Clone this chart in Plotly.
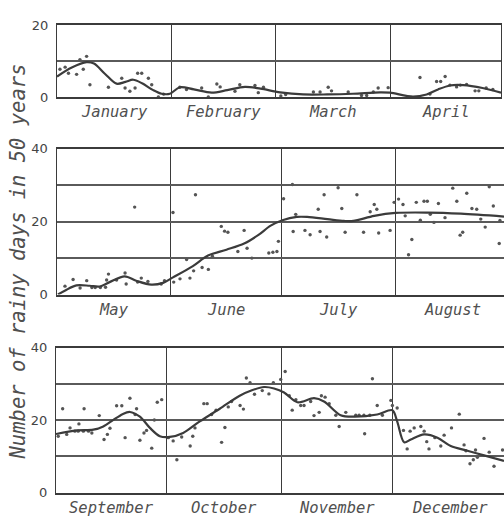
import plotly.graph_objects as go

# Days are counted from the first day of each panel's first month.

# ---- January - April ----
months_1 = ["January", "February", "March", "April"]
month_days_1 = [31, 28, 31, 30]
curve_day_1 = [0, 4, 8, 10, 13, 16.1, 18.5, 20.6, 23, 26, 28.3, 30.5, 33.2, 37, 41.8, 46,
               50.8, 55, 60.3, 66.5, 73, 80, 87.3, 90, 96.2, 99.9, 103, 106.2, 109.8, 115, 120]
curve_val_1 = [5.8, 8.3, 9.8, 9.4, 6.5, 3.8, 4.3, 4.9, 3.9, 2.0, 1.0, 1.0, 2.8, 2.2, 1.3, 2.0,
               2.9, 2.4, 1.4, 0.8, 0.8, 1.0, 1.4, 1.3, 0.2, 0.8, 2.2, 3.3, 3.4, 2.6, 1.3]
obs_day_1 = [0.8, 2.2, 3.1, 5.3, 6.2, 7.1, 8.0, 8.9, 13.9, 17.5, 18.4, 19.7, 21.1, 21.8, 22.9,
             24.7, 25.6, 27.4, 28.8, 33.2, 35, 39.1, 40.9, 43.2, 44.1, 48.1, 49.4, 53.5, 54.4,
             55.8, 60.5, 61.8, 69.3, 71.1, 73.3, 74.2, 78.7, 82.3, 83.7, 85.5, 86.8, 89.5,
             98.1, 100.8, 102.6, 103.7, 104.9, 106.2, 108, 109, 110.7, 113, 114, 116, 117.8]
obs_val_1 = [7.8, 8.4, 6.7, 6.4, 10.5, 7.8, 11.4, 3.5, 2.8, 5.3, 2.6, 1.7, 2.6, 6.7, 6.7,
             5.3, 3.5, 0.1, 0.9, 2.8, 2.2, 2.6, 0.1, 3.7, 2.9, 1.7, 3.5, 3.3, 1.3,
             2.8, 0.4, 0.8, 1.5, 1.5, 2.8, 1.8, 1.5, 0.5, 0.5, 1.5, 2.6, 2.7,
             5.5, 0.9, 4.4, 4.4, 5.8, 3.4, 2.9, 3.4, 3.6, 1.8, 1.8, 2.6, 2.2]

# ---- May - August ----
months_2 = ["May", "June", "July", "August"]
month_days_2 = [31, 30, 31, 31]
curve_day_2 = [0.4, 2.5, 5.4, 9, 11.7, 14.4, 18.5, 21.6, 25.7, 28.9, 31.6, 37, 41.1, 46.1,
               50.9, 54.7, 58.1, 61.3, 65.2, 68, 73.5, 78, 80.5, 86.2, 92, 100.6, 109.7, 121.4]
curve_val_2 = [0.0, 1.2, 2.5, 2.4, 2.2, 3.4, 5.0, 3.8, 2.7, 3.2, 4.7, 7.8, 10.7, 12.3,
               14.0, 16.3, 18.9, 20.4, 21.3, 21.3, 20.7, 20.2, 20.2, 21.6, 22.4, 22.5, 22.2, 21.4]
obs_day_2 = [2.3, 4.5, 6.4, 8.2, 9.6, 10.5, 11.9, 13.3, 13.6, 14.1, 16.3, 18.6, 18.9, 21.2,
             22, 23, 24.8, 28.4, 29.3, 31.6, 31.8, 33.5, 35.3, 36.2, 37.2, 37.7, 39.5, 41.2,
             42.3, 44.7, 45.6, 46.5, 49.2, 50.9, 51.7, 53, 57.6, 58.7, 59.8, 60.2,
             61.6, 64, 64.2, 64.9, 67.4, 68.8, 71, 71.5, 72.6, 73.3, 76.4, 77.4, 78.3, 81.5,
             83.3, 85.1, 86.2, 86.9, 87.4, 90.5, 91.6, 92.8, 94, 94.6, 95.5, 96.4, 97.6, 98.7,
             99.7, 100.6, 101.4, 102.4, 103.6, 105.4, 107.5, 108.6, 109.5, 110.2, 111.3,
             112.7, 114, 115.1, 116.3, 117.4, 118.5, 120.1, 120.3]
obs_val_2 = [2.3, 4.1, 1.8, 3.8, 1.9, 1.9, 1.9, 2.0, 4.0, 5.6, 4.0, 5.9, 2.9, 24.0,
             3.4, 4.5, 3.6, 2.9, 3.8, 22.5, 3.4, 4.3, 9.6, 4.5, 6.5, 27.4, 7.4, 6.9,
             10.5, 18.7, 17.4, 17.1, 11.8, 17.6, 12.7, 10.0, 11.4, 11.6, 11.8, 14.6,
             26.3, 30.2, 17.3, 22.0, 17.6, 16.4, 23.4, 17.3, 27.4, 15.8, 29.3, 23.6, 17.1, 27.4,
             17.1, 22.7, 24.7, 23.4, 16.9, 17.6, 25.3, 26.2, 24.7, 21.6, 10.9, 15.1, 25.3, 20.4,
             25.6, 25.6, 22.0, 19.8, 25.0, 21.1, 29.2, 25.6, 16.3, 17.1, 27.8,
             23.6, 23.4, 20.7, 18.5, 29.6, 24.3, 14.0, 20.3]

# ---- September - December ----
months_3 = ["September", "October", "November", "December"]
month_days_3 = [30, 31, 30, 31]
curve_day_3 = [0, 5.6, 10.1, 12.8, 15.5, 18, 20, 22.7, 25.4, 28.1, 30.8, 34.4, 38.9, 44.3,
               49.7, 53, 56.3, 59, 61.7, 65.3, 69.8, 72.5, 77, 80.6, 86.9, 91, 92.3, 94.2,
               96, 99.6, 103.2, 106.8, 111.3, 115.8, 121.2]
curve_val_3 = [16.2, 17.2, 17.4, 18.3, 20.1, 21.7, 22.3, 21.0, 17.9, 15.6, 15.4, 16.5, 19.7, 23.2,
               26.8, 28.3, 29.2, 28.8, 27.7, 25.0, 26.1, 25.2, 21.4, 21.0, 21.6, 22.8, 19.7, 13.9,
               14.7, 16.1, 15.2, 12.9, 11.6, 10.3, 8.8]
obs_day_3 = [0.6, 1.8, 2.9, 3.8, 5.1, 6.0, 6.2, 7.6, 7.4, 8.8, 9.7, 11.7, 13.0, 13.9, 14.6,
             16.4, 17.8, 18.7, 20.0, 21.4, 21.8, 22.7, 23.8, 24.5, 25.9, 26.6, 27.4, 28.6,
             30.4, 31.7, 32.7, 34.0, 36.3, 37.0, 37.6, 40.0, 40.9, 42.1, 43.3, 44.8, 45.7,
             46.6, 47.5, 49.8, 50.7, 51.5, 52.5, 53.7, 55.8, 57.6, 58.8, 60.8,
             62.0, 63.1, 63.9, 64.9, 66.2, 67.1, 68.9, 69.8, 71.2, 71.8, 72.8, 73.9, 75.7,
             76.6, 78.4, 81.1, 82.0, 83.3, 83.5, 84.9, 85.6, 86.9, 88.3, 90.6,
             91.0, 92.3, 94.0, 95.0, 95.8, 96.9, 98.7, 99.6, 100.3, 100.9, 102.5, 104.1,
             105.0, 107.0, 109.1, 110.4, 110.9, 112.0, 112.9, 113.5, 114.0, 115.8, 117.2,
             118.5, 120.8]
obs_val_3 = [15.6, 23.2, 16.1, 17.9, 17.0, 17.0, 19.0, 23.2, 17.0, 17.0, 16.5, 21.3, 14.7, 16.1, 17.8,
             24.0, 24.0, 15.2, 26.1, 21.6, 23.2, 14.5, 16.5, 17.2, 12.3, 20.1, 25.0, 25.7,
             15.2, 14.3, 9.1, 15.4, 12.9, 15.6, 17.9, 24.6, 24.6, 21.6, 22.8, 13.9, 18.0,
             23.7, 25.2, 24.1, 23.1, 31.7, 30.4, 27.2, 28.2, 27.3, 30.4, 31.3,
             33.5, 26.8, 22.8, 25.7, 24.1, 24.1, 25.2, 21.3, 22.2, 26.8, 26.4, 24.6, 21.4,
             18.3, 22.2, 21.4, 21.4, 21.4, 16.3, 21.4, 31.5, 24.1, 21.4, 25.5,
             24.1, 23.4, 17.2, 12.1, 17.0, 17.9, 18.3, 17.0, 14.1, 12.1, 15.2, 12.9,
             15.9, 17.9, 21.7, 13.2, 11.6, 8.0, 9.1, 11.8, 9.8, 15.0, 11.2,
             7.3, 11.8]

y_max = [20, 40, 40]
x_shown = [120, 121.4, 121.2]

W, H = 504, 523
INK = "#3b3b3b"
GRID = "#5a5a5a"
LETTER = "DejaVu Sans Mono"

# pixel frames (left, right, top, bottom) of each panel
frames = [(57, 501, 19, 93), (56.5, 504, 146, 296), (56, 504, 351, 500)]

panels = [
    (months_1, month_days_1, curve_day_1, curve_val_1, obs_day_1, obs_val_1),
    (months_2, month_days_2, curve_day_2, curve_val_2, obs_day_2, obs_val_2),
    (months_3, month_days_3, curve_day_3, curve_val_3, obs_day_3, obs_val_3),
]

fig = go.Figure()
layout = {}
for i, (months, mdays, cday, cval, oday, oval) in enumerate(panels):
    k = "" if i == 0 else str(i + 1)
    xa, ya = "x" + k, "y" + k
    fig.add_trace(go.Scatter(x=oday, y=oval, mode="markers", xaxis=xa, yaxis=ya,
                             marker=dict(size=3.4, color="#555555"), hoverinfo="x+y"))
    fig.add_trace(go.Scatter(x=cday, y=cval, mode="lines", xaxis=xa, yaxis=ya,
                             line=dict(color=INK, width=2.2, shape="spline", smoothing=0.9)))
    starts = [sum(mdays[:j]) for j in range(len(mdays))]
    mids = [s + d / 2 for s, d in zip(starts, mdays)]
    bounds = starts[1:]
    l, r, t, b = frames[i]
    box = i == 0
    layout["xaxis" + k] = dict(
        domain=[l / W, r / W], range=[0, x_shown[i]], anchor=ya,
        showticklabels=False, ticks="", showgrid=False, zeroline=False,
        showline=True, linecolor=INK, linewidth=1.6, mirror=True,
        minor=dict(tickmode="array", tickvals=bounds, showgrid=True,
                   gridcolor=INK, gridwidth=1.3, ticks=""),
    )
    yticks = list(range(0, y_max[i] + 1, 10))
    layout["yaxis" + k] = dict(
        domain=[1 - b / H, 1 - t / H], range=[0, y_max[i]], anchor=xa,
        tickmode="array", tickvals=yticks,
        ticktext=[str(v) if v % 20 == 0 else "" for v in yticks], ticks="",
        tickfont=dict(family="DejaVu Sans", size=13, color="#444444"),
        ticklabelstandoff=5, showgrid=True, gridcolor=GRID, gridwidth=1.5,
        zeroline=False, showline=True, linecolor=INK, linewidth=1.3, mirror=box,
    )
    # month names under each month
    for name, m in zip(months, mids):
        fig.add_annotation(
            text=name, x=m, xref=xa, y=0, yref=ya + " domain",
            yshift=-15, xanchor="center", yanchor="middle", showarrow=False,
            font=dict(family=LETTER, size=15.5, color="#505050", style="italic"),
        )

fig.update_layout(
    width=W, height=H, margin=dict(l=0, r=0, t=0, b=0),
    paper_bgcolor="white", plot_bgcolor="white", showlegend=False,
    **layout,
)
fig.add_annotation(
    text="Number of rainy days in 50 years", textangle=-90,
    xref="paper", yref="paper", x=18 / W, y=1 - 262 / H,
    xanchor="center", yanchor="middle", showarrow=False,
    font=dict(family=LETTER, size=20.5, color="#505050", style="italic"),
)

fig.write_html("out.html")
